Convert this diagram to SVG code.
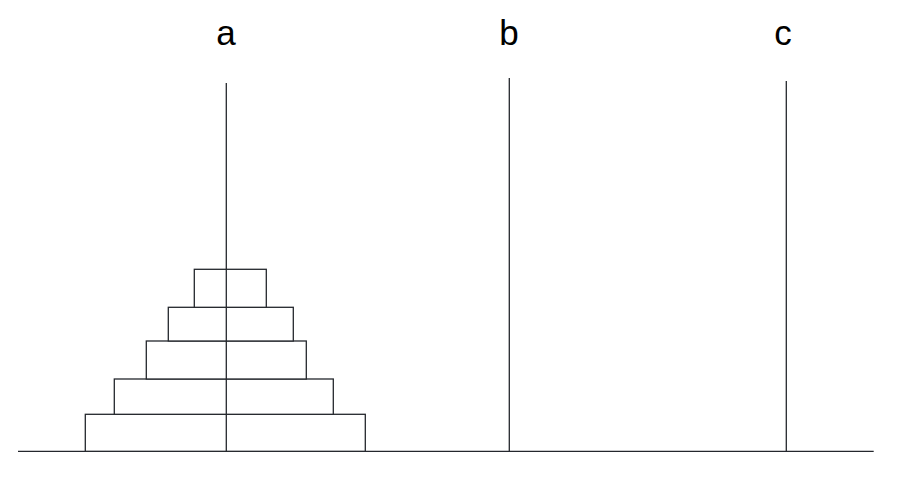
<svg xmlns="http://www.w3.org/2000/svg" width="908" height="486" viewBox="0 0 908 486">
<style>
.ln{stroke:#24272d;stroke-width:1.3;fill:none}
.disk{stroke:#24272d;stroke-width:1.3;fill:#fff}
.lbl{font-family:"Liberation Sans",Arial,sans-serif;font-size:35px;fill:#000;text-anchor:middle}
</style>
<rect width="908" height="486" fill="#fff"/>
<g id="labels">
<text class="lbl" x="226" y="45">a</text>
<text class="lbl" x="509" y="45">b</text>
<text class="lbl" x="783" y="45">c</text>
</g>
<g id="connectors">
<line class="ln" x1="18" y1="451.3" x2="873.7" y2="451.3"/>
<line class="ln" x1="509.3" y1="78" x2="509.3" y2="451.3"/>
<line class="ln" x1="786.3" y1="81" x2="786.3" y2="451.3"/>
</g>
<g id="disk5"><rect class="disk" x="85.3" y="414.3" width="280" height="37"/></g>
<g id="disk4"><rect class="disk" x="114.3" y="379" width="219" height="35.3"/></g>
<g id="disk3"><rect class="disk" x="146.3" y="341" width="160" height="38"/></g>
<g id="disk2"><rect class="disk" x="168.3" y="307.3" width="125" height="33.7"/></g>
<g id="disk1"><rect class="disk" x="194.3" y="269.3" width="72" height="38"/></g>
<g id="rod-a"><line class="ln" x1="226.3" y1="83" x2="226.3" y2="451.3"/></g>
</svg>
